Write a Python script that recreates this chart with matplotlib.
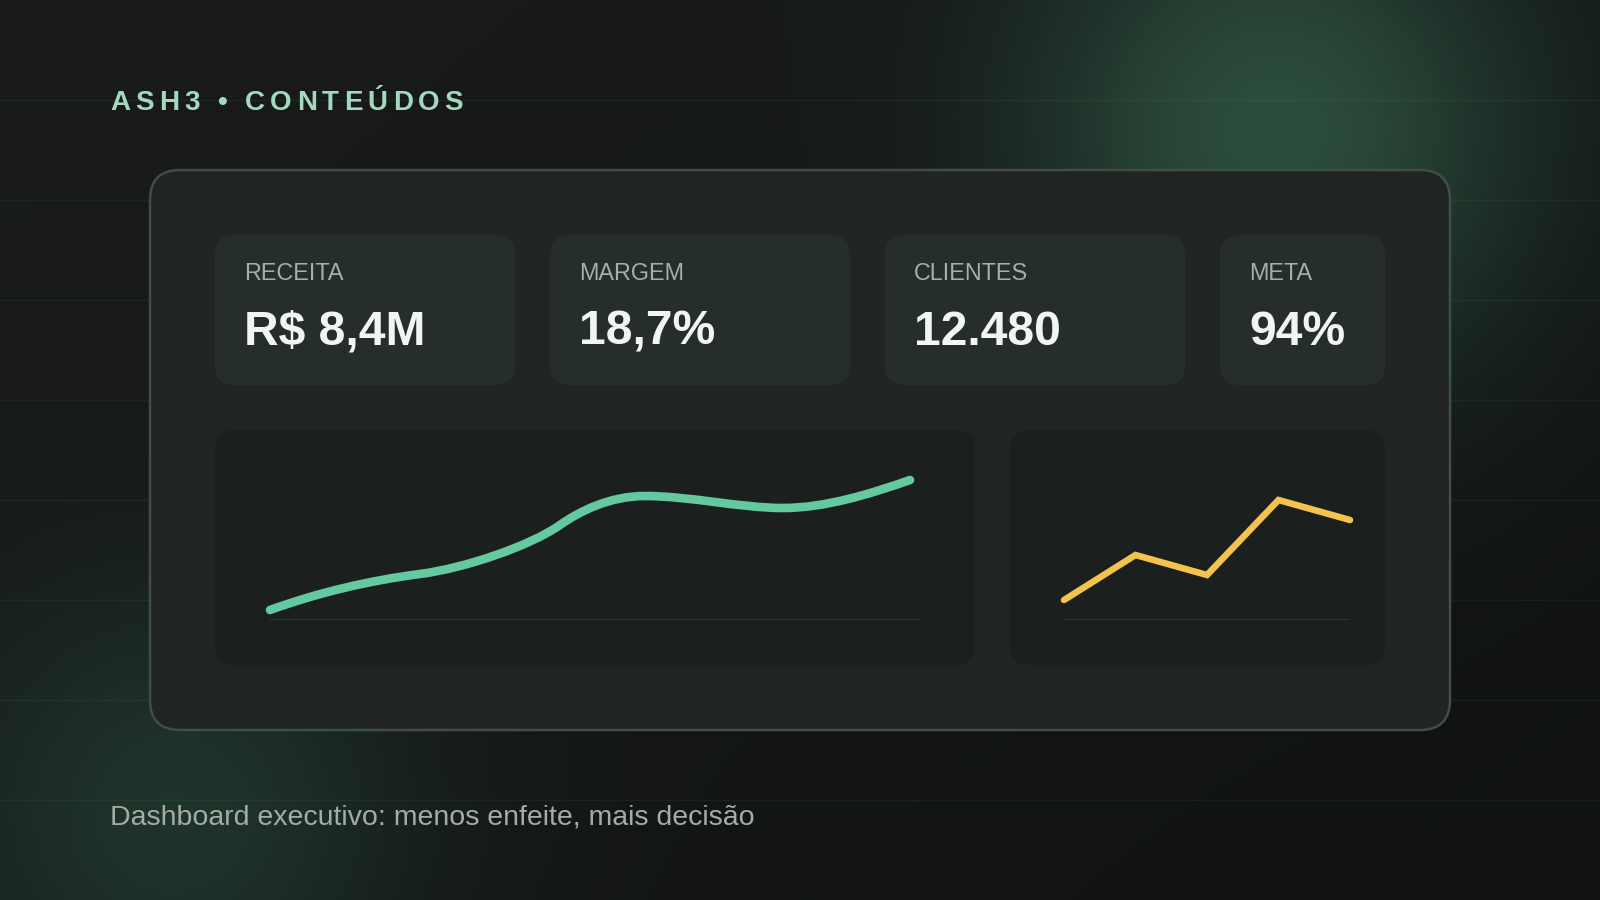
import numpy as np
import matplotlib
matplotlib.use("Agg")
import matplotlib.pyplot as plt
from matplotlib.patches import FancyBboxPatch, PathPatch
from matplotlib.path import Path
from matplotlib.font_manager import FontProperties

# ---------------- data ----------------
title_text = "ASH3 • CONTEÚDOS"
footer_text = "Dashboard executivo: menos enfeite, mais decisão"

kpi_labels = ["RECEITA", "MARGEM", "CLIENTES", "META"]
kpi_values = ["R$ 8,4M", "18,7%", "12.480", "94%"]

# trend curve (cubic Bezier vertices: start point + 3 per segment)
trend_x = [0, 50, 100, 150, 195, 260, 290, 310, 340, 375, 420, 470, 513, 555, 600, 640]
trend_y = [10, 28, 39.5, 46, 51.85, 74, 95, 109, 124, 124, 124, 112, 112, 112, 126, 140]

# small line chart
spark_x = [0, 1, 2, 3, 4]
spark_y = [20, 65, 45, 120, 100]

# ---------------- style ----------------
W, H = 1600, 900
FONT = "Liberation Sans"
GREEN = "#64c9a0"
YELLOW = "#f2c44d"
TITLE_C = "#a3d9bf"
LABEL_C = "#a6aea9"
VALUE_C = "#f3f5f4"
FOOT_C = "#a3aca7"

fig = plt.figure(figsize=(16, 9), dpi=100)
bg = fig.add_axes([0, 0, 1, 1])
bg.set_xlim(0, W)
bg.set_ylim(H, 0)
bg.axis("off")

# background gradient + glows
yy, xx = np.mgrid[0:H, 0:W].astype(float)
t = (xx / W * 0.6 + yy / H * 0.4)
c0 = np.array([25, 28, 27], float)
c1 = np.array([15, 18, 17], float)
img = c0[None, None, :] * (1 - t[..., None]) + c1[None, None, :] * t[..., None]

def glow(img, cx, cy, sigma, color, strength):
    r2 = (xx - cx) ** 2 + (yy - cy) ** 2
    a = strength * np.exp(-r2 / (2 * sigma ** 2))
    col = np.array(color, float)
    return img * (1 - a[..., None]) + col[None, None, :] * a[..., None]

img = glow(img, 1275, 130, 180, (46, 82, 65), 0.92)
img = glow(img, 175, 815, 165, (36, 62, 50), 0.72)
bg.imshow(np.clip(img, 0, 255).astype(np.uint8), extent=(0, W, H, 0),
          interpolation="bilinear", zorder=0, aspect="auto")

# faint horizontal guide lines
for gy in range(100, 900, 100):
    bg.plot([0, W], [gy, gy], color="#7fd1a8", alpha=0.07, lw=1.0, zorder=1)

def rbox(x, y, w, h, r, fc, ec="none", lw=0, z=2):
    p = FancyBboxPatch((x, y), w, h, boxstyle=f"round,pad=0,rounding_size={r}",
                       fc=fc, ec=ec, lw=lw, zorder=z)
    bg.add_patch(p)

# main card
rbox(150, 170, 1300, 560, 30, "#202522", "#414d47", 1.8, 2)

# KPI cards
card_x = [215, 550, 885, 1220]
card_w = [300, 300, 300, 165]
for cx, cw, lab, val in zip(card_x, card_w, kpi_labels, kpi_values):
    rbox(cx, 235, cw, 150, 20, "#262e2a", z=3)
    bg.text(cx + 29, 280, lab, fontsize=16.8, family=FONT, color=LABEL_C,
            va="baseline", ha="left", zorder=4)
    bg.text(cx + 29, 345, val, fontsize=34.6, family=FONT, weight="bold",
            color=VALUE_C, va="baseline", ha="left", zorder=4)

# chart panels
rbox(215, 430, 760, 235, 20, "#1b201e", z=3)
rbox(1010, 430, 375, 235, 20, "#1b201e", z=3)

# title with letter spacing
renderer = fig.canvas.get_renderer()
tprop = FontProperties(family=FONT, weight="bold", size=20)
xpos = 110
for ch in title_text:
    bg.text(xpos, 110, ch, fontproperties=tprop, color=TITLE_C,
            va="baseline", ha="left", zorder=4)
    w, _, _ = renderer.get_text_width_height_descent(ch, tprop, ismath=False)
    xpos += w + 5.1

# footer
bg.text(110, 825, footer_text, fontsize=20.5, family=FONT, color=FOOT_C,
        va="baseline", ha="left", zorder=4)

# ---------------- charts ----------------
def px_axes(left, right, base, top):
    return fig.add_axes([left / W, (H - base) / H, (right - left) / W, (base - top) / H])

ax1 = px_axes(270, 920, 620, 430)
ax1.set_xlim(0, 650)
ax1.set_ylim(0, 190)
ax1.axis("off")
ax1.patch.set_alpha(0)
ax1.axhline(0, color="#2d3732", lw=1.6, zorder=1)
codes = [Path.MOVETO] + [Path.CURVE4] * (len(trend_x) - 1)
path = Path(np.column_stack([trend_x, trend_y]), codes)
ax1.add_patch(PathPatch(path, fc="none", ec=GREEN, lw=6.2, capstyle="round",
                        joinstyle="round", clip_on=False, zorder=3))

ax2 = px_axes(1064, 1350, 620, 430)
ax2.set_xlim(0, 4)
ax2.set_ylim(0, 190)
ax2.axis("off")
ax2.patch.set_alpha(0)
ax2.axhline(0, color="#2d3732", lw=1.6, zorder=1)
ax2.plot(spark_x, spark_y, color=YELLOW, lw=4.7, solid_capstyle="round",
         solid_joinstyle="miter", clip_on=False, zorder=3)

fig.savefig("out.png", dpi=100)
